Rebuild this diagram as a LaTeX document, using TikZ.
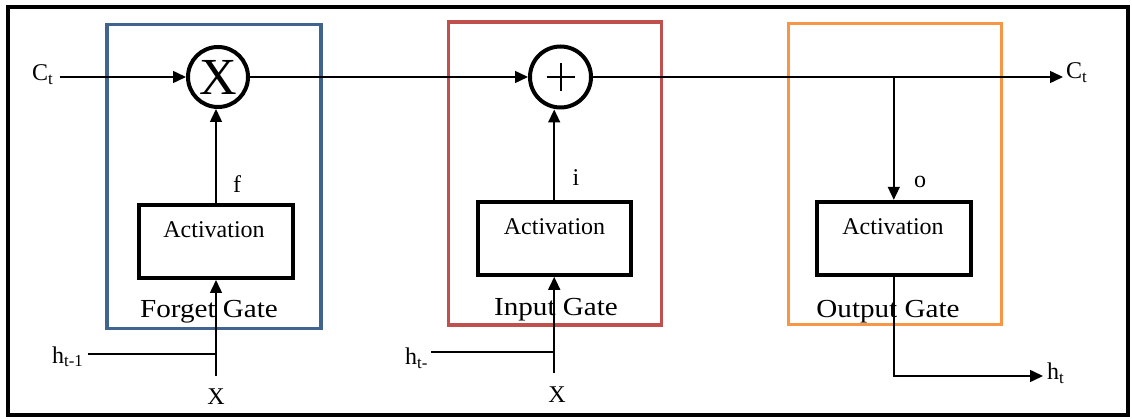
\documentclass[tikz,border=0pt]{standalone}
\usepackage{fontspec}
\usepackage{graphicx}
\setmainfont{Liberation Serif}
\usetikzlibrary{arrows.meta}
\definecolor{gblue}{HTML}{41648F}
\definecolor{gred}{HTML}{C0504D}
\definecolor{gorange}{HTML}{F79646}
\newcommand{\gatetxt}[1]{\scalebox{1.12}[1]{\fontsize{26}{30}\selectfont #1}}
\begin{document}
\begin{tikzpicture}[x=1pt,y=-1pt,font=\fontsize{24}{28}\selectfont,
  gatebox/.style={draw, line width=3.5pt, inner sep=0pt},
  actbox/.style={draw, line width=4pt, minimum width=154pt, minimum height=73pt, inner sep=0pt},
  opcirc/.style={draw, circle, line width=4pt, minimum size=60pt, inner sep=0pt},
  lbl/.style={inner sep=0pt},
  conn/.style={line width=1.5pt},
  arr/.style={line width=1.5pt, -{Triangle[length=13pt,width=12pt]}}]
\useasboundingbox (0,0) rectangle (1132,419);
% outer frame
\node[draw, line width=4pt, minimum width=1120pt, minimum height=408pt, inner sep=0pt] (frame) at (568,211) {};
% gate boxes
\node[gatebox, draw=gblue, minimum width=214pt, minimum height=304pt] (fg) at (214,176.3) {};
\node[gatebox, draw=gred, minimum width=213pt, minimum height=303pt] (ig) at (555,173.3) {};
\node[gatebox, draw=gorange, minimum width=213pt, minimum height=301pt] (og) at (895,173.8) {};
% operators
\node[opcirc, font=\fontsize{52}{52}\selectfont] (mul) at (218,77) {X};
\node[opcirc, minimum size=61pt] (plus) at (560.5,77) {};
\draw[line width=2pt] ([xshift=-14pt]plus.center) -- ([xshift=14pt]plus.center);
\draw[line width=2pt] ([yshift=-14pt]plus.center) -- ([yshift=14pt]plus.center);
% activation boxes
\node[actbox] (fact) at (216,241.5) {};
\node[actbox, minimum width=153pt] (iact) at (554.2,238.3) {};
\node[actbox, minimum width=153.7pt] (oact) at (893.8,238.3) {};
\node[lbl, anchor=base] (ftxt) at (214,237.5) {Activation};
\node[lbl, anchor=base] (itxt) at (554.5,235) {Activation};
\node[lbl, anchor=base] (otxt) at (893,235) {Activation};
% gate signal labels
\node[lbl, anchor=base] (flab) at (237,193) {f};
\node[lbl, anchor=base] (ilab) at (576,186) {i};
\node[lbl, anchor=base] (olab) at (920,188) {o};
% gate names
\node[lbl, anchor=base] (fgt) at (209,318) {\gatetxt{Forget Gate}};
\node[lbl, anchor=base] (igt) at (556,316) {\gatetxt{Input Gate}};
\node[lbl, anchor=base] (ogt) at (888,318) {\gatetxt{Output Gate}};
% inputs / outputs
\node[lbl, anchor=base] (fx) at (216,404) {X};
\node[lbl, anchor=base] (ix) at (557,402) {X};
\node[lbl, anchor=base west] (fh) at (52,363) {h\textsubscript{t-1}};
\node[lbl, anchor=base west] (ih) at (405,365) {h\textsubscript{t-}};
\node[lbl, anchor=base west] (cin) at (32,81) {C\textsubscript{t}};
\node[lbl, anchor=base west] (cout) at (1066,79) {C\textsubscript{t}};
\node[lbl, anchor=base west] (ht) at (1047,380) {h\textsubscript{t}};
\coordinate (fj) at (fact.south |- 0,354);
\coordinate (ij) at (iact.south |- 0,352);
% connectors
\draw[arr, shorten <=6pt] (cin.east |- mul.west) -- (mul.west);
\draw[arr] (mul.east) -- (plus.west);
\draw[arr, shorten >=3pt] (plus.east) -- (plus.east -| cout.west);
\draw[arr] (plus.east -| oact.north) -- (oact.north);
\draw[arr, shorten >=4pt] (oact.south) |- ([yshift=4pt]ht.base west);
\draw[arr] (fact.north) -- (fact.north |- mul.south);
\draw[arr] (iact.north) -- (iact.north |- plus.south);
\draw[arr, shorten <=12pt] (fact.south |- fx.north) -- (fact.south);
\draw[arr, shorten <=13pt] (iact.south |- ix.north) -- (iact.south);
\draw[conn, shorten <=4pt] (fh.east |- fj) -- (fj);
\draw[conn, shorten <=3pt] (ih.east |- ij) -- (ij);
\end{tikzpicture}
\end{document}
